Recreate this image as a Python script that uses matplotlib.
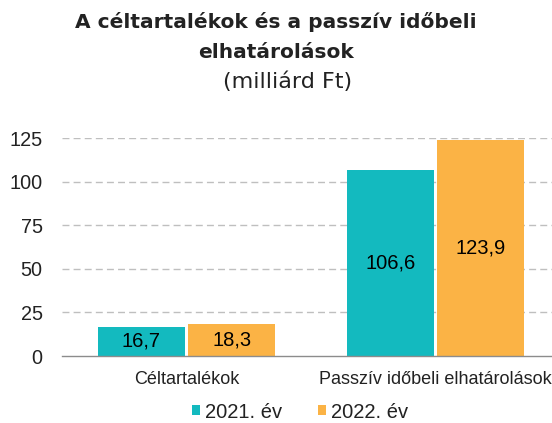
import matplotlib
matplotlib.use("Agg")
import matplotlib.pyplot as plt
import numpy as np

categories = ["Céltartalékok", "Passzív időbeli elhatárolások"]
series_names = ["2021. év", "2022. év"]
values_2021 = [16.7, 106.6]
values_2022 = [18.3, 123.9]
yticks = [0, 25, 50, 75, 100, 125]

colors = ["#13BABF", "#FBB345"]

plt.rcParams['font.family'] = ['Liberation Sans', 'DejaVu Sans']

fig = plt.figure(figsize=(5.52, 4.23), dpi=100)
ax = fig.add_axes([62/552, 1-356/423, 498/552, (356-138)/423])

x = np.arange(len(categories))
w = 0.35
gap = 0.006
b1 = ax.bar(x - w/2 - gap, values_2021, w, color=colors[0], label=series_names[0], zorder=3)
b2 = ax.bar(x + w/2 + gap, values_2022, w, color=colors[1], label=series_names[1], zorder=3)

for bars, vals in ((b1, values_2021), (b2, values_2022)):
    ax.bar_label(bars, labels=[f"{v:.1f}".replace('.', ',') for v in vals],
                 label_type='center', fontsize=14.5, color='black', zorder=4)

ax.set_xlim(-0.5, 1.5)
ax.set_ylim(0, 125)
ax.set_yticks(yticks)
ax.set_xticks(x)
ax.set_xticklabels(categories, fontsize=13, color='#222222')
ax.tick_params(axis='y', labelsize=14.3, length=0, pad=14, labelcolor='#222222')
ax.tick_params(axis='x', length=0, pad=11)
for s in ['top', 'right', 'left']:
    ax.spines[s].set_visible(False)
ax.spines['bottom'].set_color('#8C8C8C')
ax.spines['bottom'].set_linewidth(1.0)
ax.spines['bottom'].set_zorder(5)
ax.grid(axis='y', color='#BFBFBF', linestyle=(0, (5, 3)), linewidth=1.0, zorder=0)
ax.yaxis.get_gridlines()[0].set_visible(False)

fig.legend(handles=[b1, b2], labels=series_names, loc='center',
           bbox_to_anchor=(300/552, 1-412/423), ncol=2, frameon=False,
           fontsize=14.5, handlelength=0.4, handleheight=0.4, handletextpad=0.25,
           columnspacing=1.8, labelcolor='#222222')

fig.text(276/552, 1-22/423, "A céltartalékok és a passzív időbeli",
         ha='center', va='center', fontsize=14.5, fontweight='bold',
         family=['DejaVu Sans'], color='#222222')
fig.text(276/552, 1-52/423, "elhatárolások",
         ha='center', va='center', fontsize=14.5, fontweight='bold',
         family=['DejaVu Sans'], color='#222222')
fig.text(288/552, 1-82/423, "(milliárd Ft)",
         ha='center', va='center', fontsize=16,
         family=['DejaVu Sans'], color='#222222')

fig.savefig("out.png", dpi=100)
